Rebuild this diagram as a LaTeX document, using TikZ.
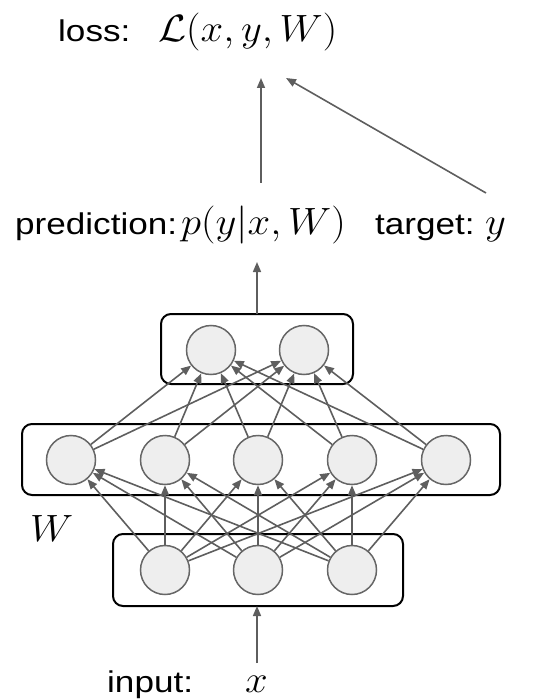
\documentclass[tikz,border=0pt]{standalone}
\usepackage{fix-cm}
\usepackage{fontspec}
\setmainfont{Liberation Sans}
\usetikzlibrary{arrows.meta}
\definecolor{arrowgray}{HTML}{5E5E5E}
\definecolor{circfill}{HTML}{EEEEEE}
\definecolor{circdraw}{HTML}{666666}
\newcommand{\lbl}[1]{\scalebox{1.17}[1]{\fontsize{30}{36}\selectfont #1}}
\newcommand{\mth}[1]{\scalebox{1.07}[1]{\fontsize{38}{44}\selectfont $#1$}}
\tikzset{
  neuron/.style={circle, fill=circfill, draw=circdraw, line width=1.5pt, minimum size=49pt, inner sep=0pt},
  layerbox/.style={draw=black, line width=2pt, rounded corners=10pt, inner sep=0pt},
  txt/.style={inner sep=0pt, anchor=base west},
  conn/.style={draw=arrowgray, line width=1.6pt, -{Triangle[length=10pt,width=8pt]}},
}
\begin{document}
\begin{tikzpicture}[x=1pt,y=-1pt]
\useasboundingbox (0,0) rectangle (553,700);
% layer boxes
\node[layerbox, minimum width=192pt, minimum height=70pt] (topbox) at (257,349) {};
\node[layerbox, minimum width=478pt, minimum height=71pt] (midbox) at (261,459.5) {};
\node[layerbox, minimum width=290pt, minimum height=72pt] (botbox) at (258,570) {};
% neurons
\node[neuron] (t1) at (211,350) {};
\node[neuron] (t2) at (304,350) {};
\foreach \i/\x in {1/71,2/165,3/258,4/352,5/446}
  \node[neuron] (m\i) at (\x,460) {};
\foreach \i/\x in {1/165,2/258,3/352}
  \node[neuron] (b\i) at (\x,570) {};
% connections
\foreach \i in {1,...,5}
  \foreach \j in {1,2}
    \draw[conn] (m\i) -- (t\j);
\foreach \i in {1,2,3}
  \foreach \j in {1,...,5}
    \draw[conn] (b\i) -- (m\j);
% labels
\node[txt] (losslbl) at (58,42) {\lbl{loss:}};
\node[txt] (lossmath) at (158,42) {\mth{\mathcal{L}(x,y,W)}};
\node[txt] (predlbl) at (15,235) {\lbl{prediction:}};
\node[txt] (predmath) at (181,235) {\mth{p(y|x,W)}};
\node[txt] (tgtlbl) at (375,235) {\lbl{target:}};
\node[txt] (tgtmath) at (485,235) {\mth{y}};
\node[txt] (inlbl) at (107,692) {\lbl{input:}};
\node[txt] (inmath) at (245,692) {\mth{x}};
\node[txt] (wlbl) at (30,541) {\mth{W}};
% arrow end points
\coordinate (lossin1) at (261,78);
\coordinate (lossin2) at (286,78);
\coordinate (predout) at (261,183);
\coordinate (tgtout) at (486,193);
\coordinate (predin) at (257,262);
\coordinate (topout) at (257,314);
\coordinate (inout) at (257,663);
\coordinate (botin) at (257,606);
\draw[conn] (predout) -- (lossin1);
\draw[conn] (tgtout) -- (lossin2);
\draw[conn] (topout) -- (predin);
\draw[conn] (inout) -- (botin);
\end{tikzpicture}
\end{document}
